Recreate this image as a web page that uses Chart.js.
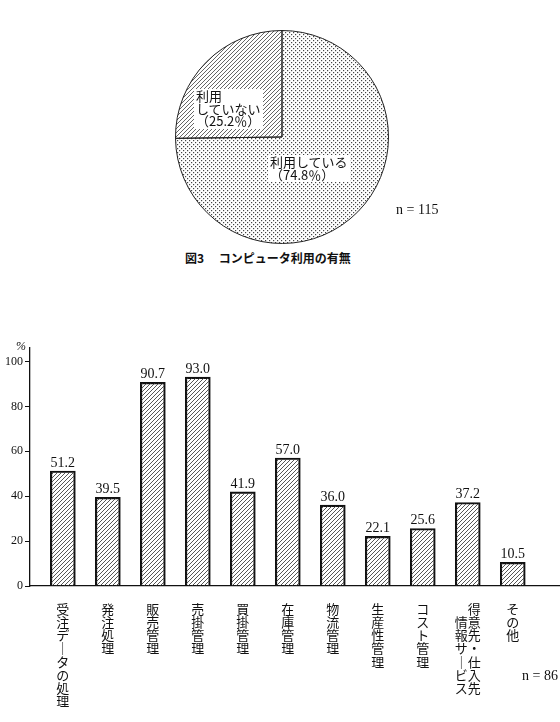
<!DOCTYPE html>
<html>
<head>
<meta charset="utf-8">
<script src="https://cdn.jsdelivr.net/npm/chart.js@4.4.1/dist/chart.umd.min.js"></script>
<style>
  body { margin: 0; background: #fff; width: 560px; height: 722px; position: relative; overflow: hidden; color: #111; font-family: "Noto Sans CJK JP", sans-serif; }
  .abs { position: absolute; }
  #pieBox { left: 175px; top: 30px; width: 214px; height: 214px; }
  #barBox { left: 0; top: 330px; width: 560px; height: 392px; }
  .lbl { position: absolute; background: #fff; font-size: 13px; line-height: 12.5px; padding: 1px 2px; white-space: nowrap; }
  .serif { font-family: "Liberation Serif", serif; font-size: 14px; }
</style>
</head>
<body>
<div class="abs" id="pieBox"><canvas id="pie"></canvas></div>
<div class="lbl" id="lblNo" style="left:194px;top:89px"></div>
<div class="lbl" id="lblYes" style="left:268px;top:155px"></div>
<div class="abs serif" style="left:396px;top:202px">n = 115</div>
<div class="abs" style="left:185px;top:249px;font-size:12px;font-weight:bold">図3　 コンピュータ利用の有無</div>

<div class="abs" id="barBox"><canvas id="bars"></canvas></div>
<div class="abs" style="left:16px;top:339px;font-family:'Liberation Serif',serif;font-style:italic;font-size:12px">%</div>
<div class="abs serif" style="left:522px;top:668px">n = 86</div>

<script>
// 図3 コンピュータ利用の有無
const pieCategories = ['利用している', '利用していない'];
const pieValues = [74.8, 25.2];
const pieLabelLines = [['利用している'], ['利用', 'していない']];

// 利用業務 (%)
const categories = ['受注データの処理', '発注処理', '販売管理', '売掛管理', '買掛管理', '在庫管理',
  '物流管理', '生産性管理', 'コスト管理', '得意先・仕入先情報サービス', 'その他'];
const values = [51.2, 39.5, 90.7, 93.0, 41.9, 57.0, 36.0, 22.1, 25.6, 37.2, 10.5];
const tickLabels = [
  ['受', '注', 'デ', '｜', 'タ', 'の', '処', '理'],
  ['発', '注', '処', '理'],
  ['販', '売', '管', '理'],
  ['売', '掛', '管', '理'],
  ['買', '掛', '管', '理'],
  ['在', '庫', '管', '理'],
  ['物', '流', '管', '理'],
  ['生', '産', '性', '管', '理'],
  ['コ', 'ス', 'ト', '管', '理'],
  ['　得', '情意', '報先', 'サ・', '｜仕', 'ビ入', 'ス先'],
  ['そ', 'の', '他']
];
const yTicks = [0, 20, 40, 60, 80, 100];

function hatch(size, color) {
  const c = document.createElement('canvas');
  c.width = size; c.height = size;
  const g = c.getContext('2d');
  g.strokeStyle = color;
  g.lineWidth = 0.9;
  g.beginPath();
  g.moveTo(0, size); g.lineTo(size, 0);
  g.moveTo(-1, 1); g.lineTo(1, -1);
  g.moveTo(size - 1, size + 1); g.lineTo(size + 1, size - 1);
  g.stroke();
  return g.createPattern(c, 'repeat');
}

function dots() {
  const c = document.createElement('canvas');
  c.width = 4; c.height = 4;
  const g = c.getContext('2d');
  g.fillStyle = '#fff';
  g.fillRect(0, 0, 4, 4);
  g.fillStyle = '#444';
  g.fillRect(0, 0, 1.2, 1.2);
  g.fillRect(2, 2, 1.2, 1.2);
  return g.createPattern(c, 'repeat');
}

// pie labels
document.getElementById('lblYes').innerHTML = pieLabelLines[0].join('<br>') + '<br>（' + pieValues[0].toFixed(1) + '％）';
document.getElementById('lblNo').innerHTML = pieLabelLines[1].join('<br>') + '<br>（' + pieValues[1].toFixed(1) + '％）';

new Chart(document.getElementById('pie'), {
  type: 'pie',
  data: {
    labels: pieCategories,
    datasets: [{
      data: pieValues,
      backgroundColor: [dots(), hatch(4, '#555')],
      borderColor: '#222',
      borderWidth: 1
    }]
  },
  options: {
    responsive: true,
    maintainAspectRatio: false,
    animation: false,
    plugins: { legend: { display: false }, tooltip: { enabled: false } }
  }
});

const valueLabels = {
  id: 'valueLabels',
  afterDatasetsDraw(chart) {
    const ctx = chart.ctx;
    const meta = chart.getDatasetMeta(0);
    ctx.save();
    ctx.font = '14px "Liberation Serif", serif';
    ctx.fillStyle = '#111';
    ctx.textAlign = 'center';
    ctx.textBaseline = 'bottom';
    meta.data.forEach((bar, i) => {
      ctx.fillText(values[i].toFixed(1), bar.x, bar.y - 1);
    });
    ctx.restore();
  }
};

new Chart(document.getElementById('bars'), {
  type: 'bar',
  data: {
    datasets: [{
      data: values.map((v, i) => ({ x: i, y: v })),
      backgroundColor: hatch(4, '#444'),
      borderColor: '#111',
      borderWidth: 1.5,
      barThickness: 25
    }]
  },
  options: {
    responsive: true,
    maintainAspectRatio: false,
    animation: false,
    layout: { padding: { top: 18, left: 0, right: 0, bottom: 0 } },
    plugins: { legend: { display: false }, tooltip: { enabled: false } },
    scales: {
      x: {
        type: 'linear',
        min: -0.73,
        max: 11.05,
        bounds: 'data',
        offset: false,
        grid: { display: false },
        border: { display: true, color: '#111', width: 1.3 },
        afterFit: s => { s.height = 136; },
        afterBuildTicks: s => { s.ticks = categories.map((c, i) => ({ value: i })); },
        ticks: {
          autoSkip: false,
          maxRotation: 0,
          padding: 8,
          color: '#111',
          font: { family: '"Noto Sans CJK JP", sans-serif', size: 13, lineHeight: 1.02 },
          callback: v => tickLabels[v] || ''
        }
      },
      y: {
        min: 0,
        max: 106,
        bounds: 'data',
        afterFit: s => { s.width = 30; },
        afterBuildTicks: s => { s.ticks = yTicks.map(v => ({ value: v })); },
        grid: { drawOnChartArea: false, drawTicks: true, tickLength: 5, color: '#111' },
        border: { display: true, color: '#111', width: 1.3 },
        ticks: {
          padding: 2,
          color: '#111',
          font: { family: '"Liberation Serif", serif', size: 12 }
        }
      }
    }
  },
  plugins: [valueLabels]
});
</script>
</body>
</html>
